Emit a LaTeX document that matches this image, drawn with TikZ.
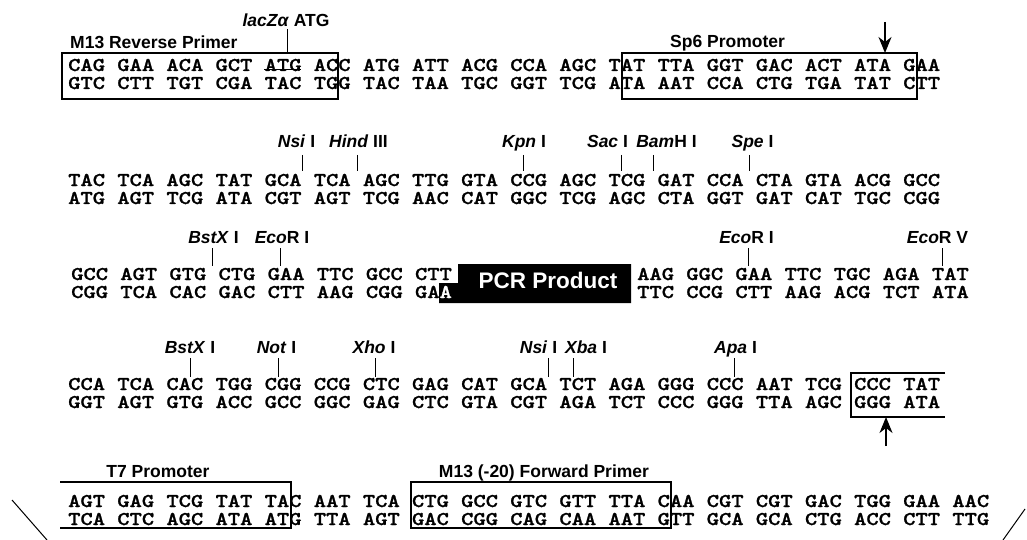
\documentclass[tikz,border=0pt]{standalone}
\usepackage{fontspec}
\setmainfont{Liberation Sans}
\newfontfamily\dnafont[FakeStretch=1.2,FakeBold=1.2]{lmmonolt10-bold.otf}
\usetikzlibrary{arrows.meta}
\tikzset{
  dna/.style={anchor=base west, inner sep=0pt, font=\dnafont\fontsize{19.5}{20}\selectfont},
  lbl/.style={anchor=base, inner sep=0pt, font=\bfseries\fontsize{17.5}{20}\selectfont},
  boxline/.style={line width=1.1pt},
  tickline/.style={line width=1pt},
  arr/.style={line width=1.2pt, -{Stealth[length=16pt,width=13pt,inset=5pt]}},
}
\begin{document}
\begin{tikzpicture}[x=1pt,y=-1pt]
\useasboundingbox (0,0) rectangle (1027,540);

% ---------- Row 1 ----------
\foreach \c [count=\i from 0] in {CAG,GAA,ACA,GCT,ATG,ACC,ATG,ATT,ACG,CCA,AGC,TAT,TTA,GGT,GAC,ACT,ATA,GAA}
  \node[dna] (r1t\i) at ({68+\i*49.12},71) {\c};
\foreach \c [count=\i from 0] in {GTC,CTT,TGT,CGA,TAC,TGG,TAC,TAA,TGC,GGT,TCG,ATA,AAT,CCA,CTG,TGA,TAT,CTT}
  \node[dna] (r1b\i) at ({68+\i*49.12},89) {\c};
\draw[line width=1pt] (r1t4.south west) ++(0,-1.5) -- ++(36.8,0);
\draw[boxline] (62,53) rectangle (338,99);
\draw[boxline] (622,53) rectangle (917,99);
\node[lbl, anchor=base west] (m13r) at (70,49) {M13 Reverse Primer};
\node[lbl] (sp6) at (727.5,48) {Sp6 Promoter};
\node[lbl] (lacz) at (286,27) {\textit{lacZα} ATG};
\coordinate (lacza) at (287,29);
\coordinate (laczb) at (287,53);
\draw[tickline] (lacza) -- (laczb);
\coordinate (sp6tail) at (885,22);
\coordinate (sp6tip) at (885,53);
\draw[arr] (sp6tail) -- (sp6tip);

% ---------- Row 2 ----------
\foreach \c [count=\i from 0] in {TAC,TCA,AGC,TAT,GCA,TCA,AGC,TTG,GTA,CCG,AGC,TCG,GAT,CCA,CTA,GTA,ACG,GCC}
  \node[dna] (r2t\i) at ({68+\i*49.12},186) {\c};
\foreach \c [count=\i from 0] in {ATG,AGT,TCG,ATA,CGT,AGT,TCG,AAC,CAT,GGC,TCG,AGC,CTA,GGT,GAT,CAT,TGC,CGG}
  \node[dna] (r2b\i) at ({68+\i*49.12},204) {\c};
\foreach \nm/\lx/\tx/\txt in {nsiA/296.5/302.7/{\textit{Nsi} I},hind/358.5/357.7/{\textit{Hind} III},kpn/524/523.3/{\textit{Kpn} I},sac/607.5/621.7/{\textit{Sac} I},bam/666.5/653.3/{\textit{Bam}H I},spe/752.5/749.3/{\textit{Spe} I}}{
  \node[lbl] (\nm) at (\lx,148) {\txt};
  \coordinate (\nm-a) at (\tx,155);
  \coordinate (\nm-b) at (\tx,171);
  \draw[tickline] (\nm-a) -- (\nm-b);
}

% ---------- Row 3 ----------
\fill[black] (439,283) -- (458,283) -- (458,264) -- (631,264) -- (631,303) -- (439,303) -- cycle;
\node[font=\bfseries\fontsize{22.5}{24}\selectfont, text=white, anchor=base, inner sep=0pt] (pcr) at (548,288) {PCR Product};
\foreach \c [count=\i from 0] in {GCC,AGT,GTG,CTG,GAA,TTC,GCC,CTT}
  \node[dna] (r3t\i) at ({71+\i*49.12},280) {\c};
\foreach \c [count=\i from 0] in {CGG,TCA,CAC,GAC,CTT,AAG,CGG}
  \node[dna] (r3b\i) at ({71+\i*49.12},298) {\c};
\node[dna] (r3b7) at ({71+7*49.12},298) {GA\textcolor{white}{A}};
\foreach \c [count=\i from 0] in {AAG,GGC,GAA,TTC,TGC,AGA,TAT}
  \node[dna] (r3u\i) at ({637+\i*49.12},280) {\c};
\foreach \c [count=\i from 0] in {TTC,CCG,CTT,AAG,ACG,TCT,ATA}
  \node[dna] (r3v\i) at ({637+\i*49.12},298) {\c};
\foreach \nm/\lx/\tx/\txt in {bstxA/213.5/212.7/{\textit{BstX} I},ecoA/282/280/{\textit{Eco}R I},ecoB/746.5/748/{\textit{Eco}R I},ecoV/937.5/942.7/{\textit{Eco}R V}}{
  \node[lbl] (\nm) at (\lx,243) {\txt};
  \coordinate (\nm-a) at (\tx,248);
  \coordinate (\nm-b) at (\tx,266);
  \draw[tickline] (\nm-a) -- (\nm-b);
}

% ---------- Row 4 ----------
\foreach \c [count=\i from 0] in {CCA,TCA,CAC,TGG,CGG,CCG,CTC,GAG,CAT,GCA,TCT,AGA,GGG,CCC,AAT,TCG,CCC,TAT}
  \node[dna] (r4t\i) at ({68+\i*49.12},390) {\c};
\foreach \c [count=\i from 0] in {GGT,AGT,GTG,ACC,GCC,GGC,GAG,CTC,GTA,CGT,AGA,TCT,CCC,GGG,TTA,AGC,GGG,ATA}
  \node[dna] (r4b\i) at ({68+\i*49.12},408) {\c};
\foreach \nm/\lx/\tx/\txt in {bstxB/190/190/{\textit{BstX} I},notI/276.5/278/{\textit{Not} I},xho/374/375.7/{\textit{Xho} I},nsiB/538.5/548/{\textit{Nsi} I},xba/586/573/{\textit{Xba} I},apa/735.5/734/{\textit{Apa} I}}{
  \node[lbl] (\nm) at (\lx,353) {\txt};
  \coordinate (\nm-a) at (\tx,358);
  \coordinate (\nm-b) at (\tx,377);
  \draw[tickline] (\nm-a) -- (\nm-b);
}
\draw[boxline] (945,373) -- (851,373) -- (851,417) -- (945,417);
\coordinate (t7tail) at (886,446);
\coordinate (t7tip) at (886,417);
\draw[arr] (t7tail) -- (t7tip);

% ---------- Row 5 ----------
\foreach \c [count=\i from 0] in {AGT,GAG,TCG,TAT,TAC,AAT,TCA,CTG,GCC,GTC,GTT,TTA,CAA,CGT,CGT,GAC,TGG,GAA,AAC}
  \node[dna] (r5t\i) at ({68+\i*49.12},507) {\c};
\foreach \c [count=\i from 0] in {TCA,CTC,AGC,ATA,ATG,TTA,AGT,GAC,CGG,CAG,CAA,AAT,GTT,GCA,GCA,CTG,ACC,CTT,TTG}
  \node[dna] (r5b\i) at ({68+\i*49.12},525) {\c};
\draw[boxline] (60,482) -- (291,482) -- (291,528) -- (60,528);
\draw[boxline] (411,482) rectangle (671,528);
\node[lbl] (t7) at (158,477) {T7 Promoter};
\node[lbl] (m13f) at (544,477) {M13 (-20) Forward Primer};

% ---------- plasmid outline fragments ----------
\draw[line width=1pt] (12,500) -- (47,540);
\draw[line width=1pt] (1025,509) -- (1003,540);
\end{tikzpicture}
\end{document}
